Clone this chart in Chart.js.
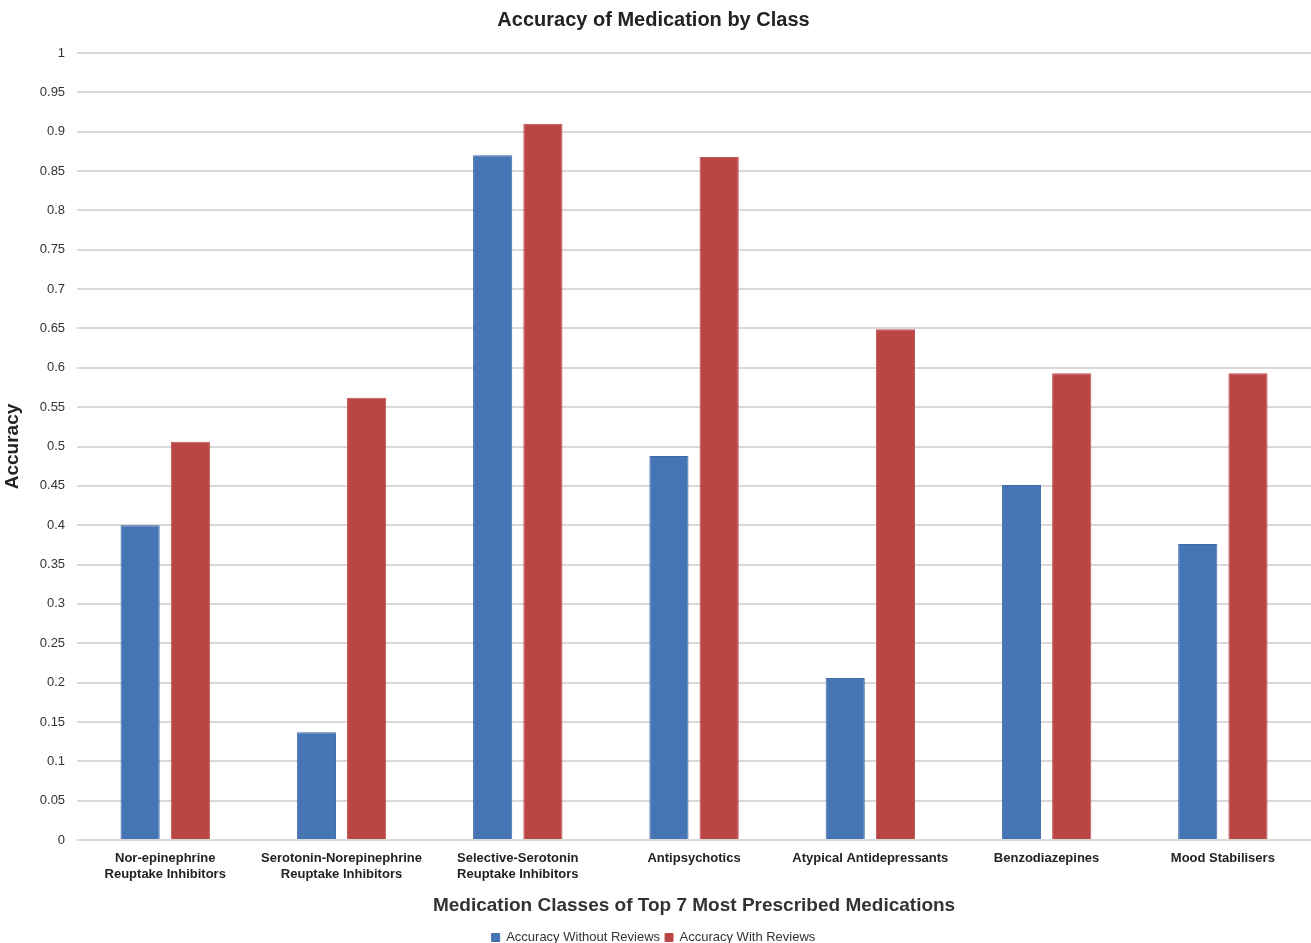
<!DOCTYPE html>
<html>
<head>
<meta charset="utf-8">
<title>Accuracy of Medication by Class</title>
<script src="https://cdn.jsdelivr.net/npm/chart.js@4"></script>
<style>
  body { margin: 0; background: #fff; }
  .wrap { width: 1311px; height: 943px; }
</style>
</head>
<body>
<div class="wrap"><canvas id="myChart"></canvas></div>
<script>
var categories = [
  ["Nor-epinephrine", "Reuptake Inhibitors"],
  ["Serotonin-Norepinephrine", "Reuptake Inhibitors"],
  ["Selective-Serotonin", "Reuptake Inhibitors"],
  "Antipsychotics",
  "Atypical Antidepressants",
  "Benzodiazepines",
  "Mood Stabilisers"
];
var withoutReviews = [0.40, 0.137, 0.87, 0.488, 0.206, 0.451, 0.376];
var withReviews = [0.506, 0.562, 0.91, 0.868, 0.649, 0.593, 0.593];

var font = "'Liberation Sans', Arial, sans-serif";

var ctx = document.getElementById("myChart");
var myChart = new Chart(ctx, {
  type: 'bar',
  data: {
    labels: categories,
    datasets: [{
      label: "Accuracy Without Reviews",
      backgroundColor: '#4575b5',
      borderColor: '#3f6ba8',
      borderWidth: 1,
      data: withoutReviews
    },
    {
      label: "Accuracy With Reviews",
      backgroundColor: '#b94544',
      borderColor: '#c0504d',
      borderWidth: 1,
      data: withReviews
    }]
  },
  options: {
    responsive: true,
    maintainAspectRatio: false,
    animation: false,
    layout: { padding: { top: 6, left: -4, right: 0, bottom: -11 } },
    datasets: {
      bar: { categoryPercentage: 0.57, barPercentage: 0.78 }
    },
    plugins: {
      title: {
        display: true,
        text: "Accuracy of Medication by Class",
        color: '#222',
        font: { family: font, size: 20, weight: 'bold' },
        padding: { top: 2, bottom: 21 }
      },
      legend: {
        position: 'bottom',
        labels: {
          color: '#333',
          font: { family: font, size: 13 },
          boxWidth: 8,
          boxHeight: 8,
          padding: 5
        }
      },
      tooltip: { enabled: false }
    },
    scales: {
      x: {
        grid: { display: false },
        border: { display: false },
        ticks: {
          color: '#222',
          maxRotation: 0,
          autoSkip: false,
          font: { family: font, size: 13, weight: 'bold' }
        },
        title: {
          display: true,
          text: "Medication Classes of Top 7 Most Prescribed Medications",
          color: '#333',
          font: { family: font, size: 19, weight: 'bold' },
          padding: { top: 9, bottom: 9 }
        }
      },
      y: {
        min: 0,
        max: 1,
        grid: { color: '#d9d9d9', lineWidth: 2, drawTicks: false },
        border: { display: false },
        ticks: {
          stepSize: 0.05,
          padding: 12,
          color: '#333',
          font: { family: font, size: 13 },
          callback: function(v) { return +v.toFixed(2); }
        },
        title: {
          display: true,
          text: "Accuracy",
          color: '#222',
          font: { family: font, size: 19, weight: 'bold' },
          padding: { top: 5, bottom: 4 }
        }
      }
    }
  }
});
</script>
</body>
</html>
